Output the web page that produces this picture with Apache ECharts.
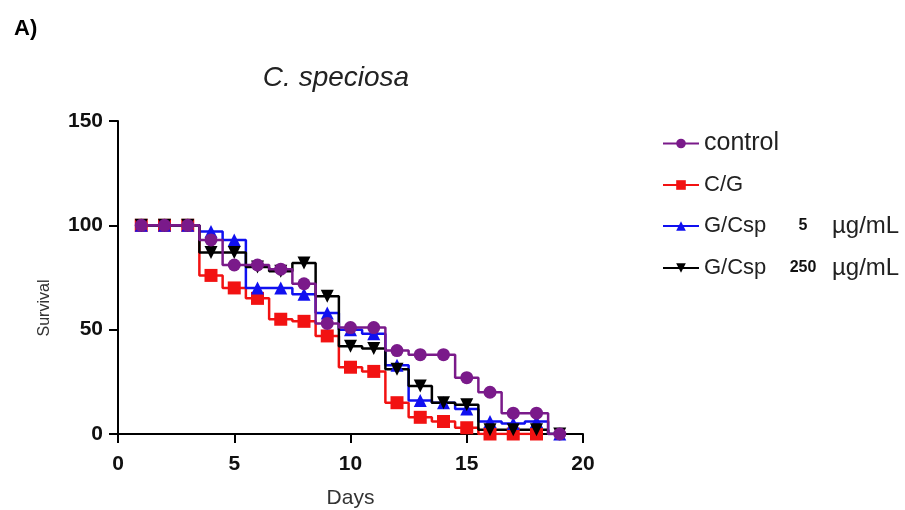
<!DOCTYPE html>
<html>
<head>
<meta charset="utf-8">
<script src="https://cdn.jsdelivr.net/npm/echarts@6/dist/echarts.min.js"></script>
<style>
html,body{margin:0;padding:0;background:#fff;}
#main{width:905px;height:510px;}
</style>
</head>
<body>
<div id="main"></div>
<script>
var days = [1,2,3,4,5,6,7,8,9,10,11,12,13,14,15,16,17,18,19];
var controlVals = [100,100,100,93,81,81,79,72,53,51,51,40,38,38,27,20,10,10,0];
var cgVals      = [100,100,100,76,70,65,55,54,47,32,30,15,8,6,3,0,0,0,null];
var csp5Vals    = [100,100,100,97,93,70,70,67,58,50,48,33,16,15,12,6,5,6,0];
var csp250Vals  = [100,100,100,87,87,80,78,82,66,42,41,31,23,15,14,2,2,2,0];
var xTicks = [0,5,10,15,20];
var yTicks = [0,50,100,150];

function pairs(vals){
	var out=[];
	for(var i=0;i<days.length;i++){
		if(vals[i]!==null) out.push([days[i],vals[i]]);
	}
	return out;
}

function mkSeries(name,vals,color,symbol,rotate){
	return {
		name:name,
		type:'line',
		step:'middle',
		data:pairs(vals),
		symbol:symbol,
		symbolSize:13,
		symbolRotate:rotate||0,
		lineStyle:{color:color,width:2.5},
		itemStyle:{color:color},
		z:2
	};
}

var font='Liberation Sans, Arial, sans-serif';
var myChar=echarts.init(document.getElementById('main'));
var myOption={
	animation:false,
	textStyle:{fontFamily:font},
	title:[{
		text:'A)',
		left:9,
		top:13,
		textStyle:{fontSize:22,fontWeight:'bold',color:'#000'}
	},{
		text:'C. speciosa',
		left:331,
		top:59,
		textAlign:'center',
		textStyle:{fontSize:28,fontStyle:'italic',fontWeight:'normal',color:'#222'}
	}],
	graphic:[{
		type:'text',
		x:45,
		y:308,
		rotation:Math.PI/2,
		style:{text:'Survival',font:'16px '+font,fill:'#333',textAlign:'center',textVerticalAlign:'middle'}
	}],
	grid:{left:118,right:322,top:121,bottom:76,containLabel:false,outerBoundsMode:'none'},
	xAxis:{
		type:'value',
		min:xTicks[0],
		max:xTicks[xTicks.length-1],
		interval:5,
		name:'Days',
		nameLocation:'middle',
		nameGap:54,
		nameTextStyle:{fontSize:21,color:'#333'},
		axisLine:{lineStyle:{color:'#000',width:2}},
		axisTick:{length:9,lineStyle:{color:'#000',width:2}},
		axisLabel:{fontSize:21,fontWeight:'bold',color:'#111',margin:20},
		splitLine:{show:false}
	},
	yAxis:{
		type:'value',
		min:yTicks[0],
		max:yTicks[yTicks.length-1],
		interval:50,
		axisLine:{show:true,lineStyle:{color:'#000',width:2}},
		axisTick:{show:true,length:9,lineStyle:{color:'#000',width:2}},
		axisLabel:{fontSize:21,fontWeight:'bold',color:'#111',margin:15},
		splitLine:{show:false}
	},
	legend:{
		orient:'vertical',
		left:657,
		top:126,
		itemWidth:36,
		itemHeight:12,
		itemGap:18,
		data:['control','C/G','G/Csp 5','G/Csp 250'],
		formatter:function(name){
			if(name=='control') return '{c|control}';
			if(name=='C/G') return '{s|C/G}';
			var parts=name.split(' ');
			return '{s|G/Csp}{n|'+parts[1]+'}{u|\u00b5g/mL}';
		},
		textStyle:{
			rich:{
				c:{fontSize:25,color:'#222',fontFamily:font},
				s:{fontSize:22,color:'#222',width:70,fontFamily:font},
				n:{fontSize:16,fontWeight:'bold',color:'#111',width:58,align:'center',fontFamily:font},
				u:{fontSize:24,color:'#222',fontFamily:font}
			}
		}
	},
	series:[
		mkSeries('C/G',cgVals,'#f21212','rect'),
		mkSeries('G/Csp 5',csp5Vals,'#1010f0','triangle'),
		mkSeries('G/Csp 250',csp250Vals,'#000000','triangle',180),
		mkSeries('control',controlVals,'#7a1a8a','circle')
	]
};
myChar.setOption(myOption);
</script>
</body>
</html>
